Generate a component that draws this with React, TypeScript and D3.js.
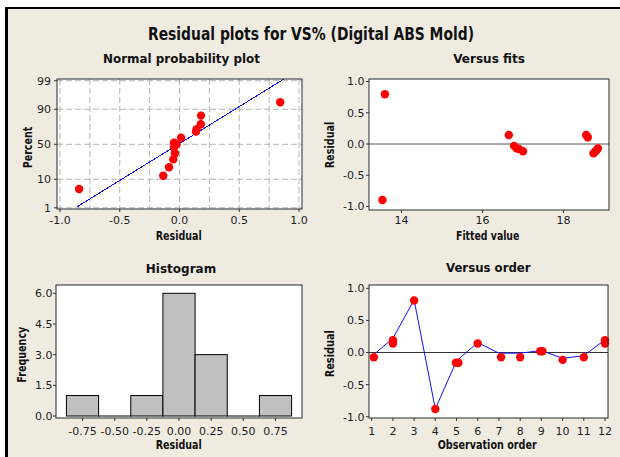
import React from 'react';
import * as d3 from 'd3';

// ---------- data ----------
const npResiduals = [-0.84, -0.136, -0.088, -0.052, -0.038, -0.046, -0.046, -0.024, 0.013, 0.138, 0.143, 0.178, 0.18, 0.843];
const npPercents = [5.1, 12.5, 20, 29, 37, 45.6, 52.3, 50, 59.5, 67.8, 70.8, 76.8, 85.3, 93.8];
const npPercentTicks = [1, 10, 50, 90, 99];
const npResidualTicks = [-1, -0.5, 0, 0.5, 1];
const npGridResiduals = [-1, -0.75, -0.5, -0.25, 0, 0.25, 0.5, 0.75, 1];
const npFitMean = -0.01;
const npFitSd = 0.37;
const npFitPercentRange = [1.1, 99.15];

const fittedValues = [13.59, 13.53, 16.65, 16.78, 16.84, 16.9, 17.0, 18.56, 18.6, 18.74, 18.82, 18.85, 18.78];
const fitResiduals = [0.795, -0.896, 0.144, -0.03, -0.07, -0.08, -0.117, 0.144, 0.107, -0.15, -0.096, -0.07, -0.125];
const fitsTicks = [14, 16, 18];
const residualTicks = [-1, -0.5, 0, 0.5, 1];

const histBinCenters = [-0.75, -0.5, -0.25, 0, 0.25, 0.5, 0.75];
const histCounts = [1, 0, 1, 6, 3, 0, 1];
const histBinWidth = 0.25;
const freqTicks = [0, 1.5, 3, 4.5, 6];

const orderPointX = [1.1, 2, 2, 3, 4, 4.97, 5.09, 6, 7.1, 8, 8.95, 9.05, 10, 11, 12, 12];
const orderPointRes = [-0.075, 0.19, 0.14, 0.81, -0.88, -0.16, -0.16, 0.14, -0.075, -0.075, 0.02, 0.02, -0.115, -0.075, 0.19, 0.14];
const orderLineRes = [-0.06, 0.22, 0.82, -0.88, -0.13, 0.155, -0.01, -0.01, 0.03, -0.09, -0.05, 0.2];
const orderTicks = [1, 2, 3, 4, 5, 6, 7, 8, 9, 10, 11, 12];

// ---------- helpers ----------
function probit(p: number): number {
  const a = [-3.969683028665376e1, 2.209460984245205e2, -2.759285104469687e2, 1.38357751867269e2, -3.066479806614716e1, 2.506628277459239];
  const b = [-5.447609879822406e1, 1.615858368580409e2, -1.556989798598866e2, 6.680131188771972e1, -1.328068155288572e1];
  const c = [-7.784894002430293e-3, -3.223964580411365e-1, -2.400758277161838, -2.549732539343734, 4.374664141464968, 2.938163982698783];
  const d = [7.784695709041462e-3, 3.224671290700398e-1, 2.445134137142996, 3.754408661907416];
  const pl = 0.02425;
  if (p < pl) {
    const q = Math.sqrt(-2 * Math.log(p));
    return (((((c[0] * q + c[1]) * q + c[2]) * q + c[3]) * q + c[4]) * q + c[5]) / ((((d[0] * q + d[1]) * q + d[2]) * q + d[3]) * q + 1);
  }
  if (p <= 1 - pl) {
    const q = p - 0.5, r = q * q;
    return ((((((a[0] * r + a[1]) * r + a[2]) * r + a[3]) * r + a[4]) * r + a[5]) * q) / (((((b[0] * r + b[1]) * r + b[2]) * r + b[3]) * r + b[4]) * r + 1);
  }
  const q = Math.sqrt(-2 * Math.log(1 - p));
  return -(((((c[0] * q + c[1]) * q + c[2]) * q + c[3]) * q + c[4]) * q + c[5]) / ((((d[0] * q + d[1]) * q + d[2]) * q + d[3]) * q + 1);
}

const FONT = "'DejaVu Sans', Verdana, sans-serif";
const TICK_COLOR = '#1e1e1e';
const BG = '#efebe1';
const RED = '#ff0000';
const BLUE = '#1010ff';

type Box = { l: number; r: number; t: number; b: number };

function BoldText(props: { x: number; y: number; text: string; w: number; size: number; rotate?: boolean }) {
  const { x, y, text, w, size, rotate } = props;
  return (
    <text
      x={rotate ? 0 : x}
      y={rotate ? 0 : y}
      transform={rotate ? `translate(${x},${y}) rotate(-90)` : undefined}
      textAnchor="middle"
      fontFamily={FONT}
      fontWeight="bold"
      fontSize={size}
      fill="#111"
      textLength={w}
      lengthAdjust="spacingAndGlyphs"
    >
      {text}
    </text>
  );
}

function YTicks(props: { box: Box; ticks: number[]; y: (v: number) => number; fmt: (v: number) => string; labelX: number }) {
  const { box, ticks, y, fmt, labelX } = props;
  return (
    <g>
      {ticks.map((t, i) => (
        <g key={i}>
          <line x1={box.l - 3} x2={box.l} y1={y(t)} y2={y(t)} stroke="#333" />
          <text x={labelX} y={y(t)} dy="0.36em" textAnchor="end" fontFamily={FONT} fontSize={11} fill={TICK_COLOR}>
            {fmt(t)}
          </text>
        </g>
      ))}
    </g>
  );
}

function XTicks(props: { box: Box; ticks: number[]; x: (v: number) => number; fmt: (v: number) => string; labelY: number }) {
  const { box, ticks, x, fmt, labelY } = props;
  return (
    <g>
      {ticks.map((t, i) => (
        <g key={i}>
          <line x1={x(t)} x2={x(t)} y1={box.b} y2={box.b + 3} stroke="#333" />
          <text x={x(t)} y={labelY} textAnchor="middle" fontFamily={FONT} fontSize={11} fill={TICK_COLOR}>
            {fmt(t)}
          </text>
        </g>
      ))}
    </g>
  );
}

function Frame({ box }: { box: Box }) {
  return <rect x={box.l} y={box.t} width={box.r - box.l} height={box.b - box.t} fill="none" stroke="#2a2a2a" strokeWidth={1} />;
}

export default function App() {
  // Panel 1: normal probability plot
  const b1: Box = { l: 57, r: 302, t: 79, b: 209 };
  const x1 = d3.scaleLinear().domain([-1, 1]).range([60, 299]);
  const z1 = d3.scaleLinear().domain([-2.37, 2.39]).range([b1.b, b1.t]);
  const yp = (pct: number) => z1(probit(pct / 100));
  const fitPts = npFitPercentRange.map((p) => [x1(npFitMean + npFitSd * probit(p / 100)), yp(p)] as [number, number]);

  // Panel 2: versus fits
  const b2: Box = { l: 369, r: 609, t: 79, b: 210 };
  const x2 = d3.scaleLinear().domain([14, 18]).range([401.5, 563.5]);
  const y2 = d3.scaleLinear().domain([-1, 1]).range([206.5, 81.5]);

  // Panel 3: histogram
  const b3: Box = { l: 56, r: 302, t: 285, b: 418 };
  const x3 = d3.scaleLinear().domain([-0.75, 0.75]).range([82.5, 275.5]);
  const y3 = d3.scaleLinear().domain([0, 6]).range([416, 293.3]);

  // Panel 4: versus order
  const b4: Box = { l: 369, r: 608, t: 285, b: 418 };
  const x4 = d3.scaleLinear().domain([1, 12]).range([371.7, 605]);
  const y4 = d3.scaleLinear().domain([-1, 1]).range([416.7, 288.3]);
  const orderPath = d3
    .line<number>()
    .x((_, i) => x4(orderTicks[i]))
    .y((v) => y4(v))(orderLineRes);

  const f1 = (v: number) => d3.format('.1f')(v).replace('−', '-');
  const f2 = (v: number) => d3.format('.2f')(v).replace('−', '-');

  return (
    <svg width={620} height={457} style={{ position: 'absolute', left: 0, top: 0 }} xmlns="http://www.w3.org/2000/svg">
      <rect x={0} y={0} width={620} height={457} fill="#ffffff" />
      <rect x={5} y={7} width={615} height={450} fill={BG} />
      <line x1={6.5} x2={6.5} y1={7} y2={457} stroke="#000" strokeWidth={3} />
      <line x1={5} x2={620} y1={8} y2={8} stroke="#000" strokeWidth={2} />

      <BoldText x={311} y={40} text="Residual plots for VS% (Digital ABS Mold)" w={326} size={17} />

      {/* Panel 1 */}
      <BoldText x={181.5} y={63} text="Normal probability plot" w={157} size={12.5} />
      <rect x={b1.l} y={b1.t} width={b1.r - b1.l} height={b1.b - b1.t} fill="#fff" />
      <g clipPath="url(#c1)">
        {npGridResiduals.map((g, i) => (
          <line key={'gx' + i} x1={x1(g)} x2={x1(g)} y1={b1.t} y2={b1.b} stroke="#b4b4b4" strokeDasharray="6,3" />
        ))}
        {npPercentTicks.map((p, i) => (
          <line key={'gy' + i} x1={b1.l} x2={b1.r} y1={yp(p)} y2={yp(p)} stroke="#b4b4b4" strokeDasharray="6,3" />
        ))}
        <line x1={fitPts[0][0]} y1={fitPts[0][1]} x2={fitPts[1][0]} y2={fitPts[1][1]} stroke={BLUE} strokeWidth={1} shapeRendering="crispEdges" />
        {npResiduals.map((r, i) => (
          <circle key={i} cx={x1(r)} cy={yp(npPercents[i])} r={4.2} fill={RED} />
        ))}
      </g>
      <Frame box={b1} />
      <YTicks box={b1} ticks={npPercentTicks} y={yp} fmt={(v) => String(v)} labelX={51} />
      <XTicks box={b1} ticks={npResidualTicks} x={x1} fmt={f1} labelY={223.5} />
      <BoldText x={178.7} y={240} text="Residual" w={46} size={11.5} />
      <BoldText x={31.5} y={147.5} text="Percent" w={41.7} size={11.5} rotate />

      {/* Panel 2 */}
      <BoldText x={489} y={63} text="Versus fits" w={71.7} size={12.5} />
      <rect x={b2.l} y={b2.t} width={b2.r - b2.l} height={b2.b - b2.t} fill="#fff" />
      <line x1={b2.l} x2={b2.r} y1={y2(0)} y2={y2(0)} stroke="#555" />
      {fittedValues.map((f, i) => (
        <circle key={i} cx={x2(f)} cy={y2(fitResiduals[i])} r={4.2} fill={RED} />
      ))}
      <Frame box={b2} />
      <YTicks box={b2} ticks={residualTicks} y={y2} fmt={f1} labelX={364.5} />
      <XTicks box={b2} ticks={fitsTicks} x={x2} fmt={(v) => String(v)} labelY={224} />
      <BoldText x={487.7} y={240} text="Fitted value" w={63.3} size={11.5} />
      <BoldText x={334} y={145} text="Residual" w={46.7} size={11.5} rotate />

      {/* Panel 3 */}
      <BoldText x={181} y={272.5} text="Histogram" w={70.3} size={12.5} />
      <rect x={b3.l} y={b3.t} width={b3.r - b3.l} height={b3.b - b3.t} fill="#fff" />
      {histBinCenters.map((c, i) => (
        <rect
          key={i}
          x={x3(c - histBinWidth / 2)}
          y={y3(histCounts[i])}
          width={x3(c + histBinWidth / 2) - x3(c - histBinWidth / 2)}
          height={Math.max(y3(0) - y3(histCounts[i]), 0.01)}
          fill="#c0c0c0"
          stroke="#000"
          strokeWidth={1}
        />
      ))}
      <Frame box={b3} />
      <YTicks box={b3} ticks={freqTicks} y={y3} fmt={f1} labelX={52.5} />
      <XTicks box={b3} ticks={histBinCenters} x={x3} fmt={f2} labelY={434.5} />
      <BoldText x={178.7} y={449} text="Residual" w={46} size={11.5} />
      <BoldText x={26} y={354.7} text="Frequency" w={56} size={11.5} rotate />

      {/* Panel 4 */}
      <BoldText x={488.3} y={272} text="Versus order" w={84.7} size={12.5} />
      <rect x={b4.l} y={b4.t} width={b4.r - b4.l} height={b4.b - b4.t} fill="#fff" />
      <line x1={b4.l} x2={b4.r} y1={y4(0)} y2={y4(0)} stroke="#333" />
      <path d={orderPath || ''} fill="none" stroke={BLUE} strokeWidth={1} />
      {orderPointX.map((o, i) => (
        <circle key={i} cx={x4(o)} cy={y4(orderPointRes[i])} r={4.2} fill={RED} />
      ))}
      <Frame box={b4} />
      <YTicks box={b4} ticks={residualTicks} y={y4} fmt={f1} labelX={364.5} />
      <XTicks box={b4} ticks={orderTicks} x={x4} fmt={(v) => String(v)} labelY={434.5} />
      <BoldText x={487.2} y={448.5} text="Observation order" w={99} size={11.5} />
      <BoldText x={334} y={353.7} text="Residual" w={47.3} size={11.5} rotate />

      <defs>
        <clipPath id="c1">
          <rect x={b1.l} y={b1.t} width={b1.r - b1.l} height={b1.b - b1.t} />
        </clipPath>
      </defs>
    </svg>
  );
}
